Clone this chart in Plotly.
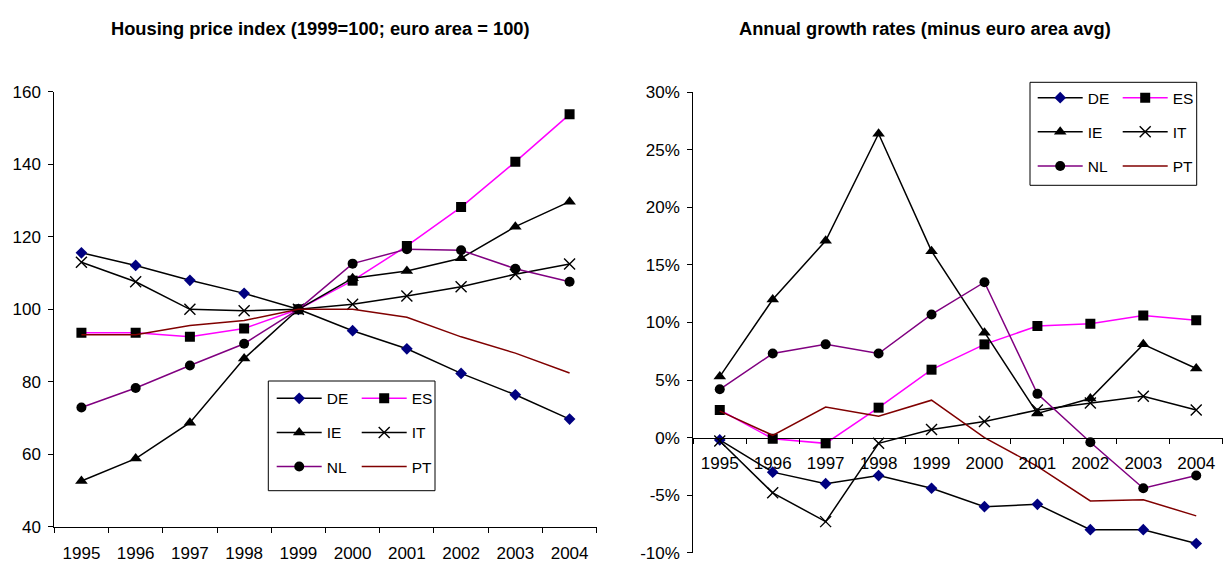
import plotly.graph_objects as go

# ---------------- data ----------------
years = ["1995", "1996", "1997", "1998", "1999", "2000", "2001", "2002", "2003", "2004"]
countries = ["DE", "ES", "IE", "IT", "NL", "PT"]

# Housing price index (1999=100; euro area = 100)
idx_DE = [115.6, 112.1, 108.0, 104.4, 100.0, 94.1, 89.1, 82.3, 76.4, 69.7]
idx_ES = [93.5, 93.5, 92.4, 94.7, 100.0, 107.9, 117.5, 128.2, 140.7, 153.8]
idx_IE = [52.6, 58.8, 68.7, 86.4, 100.0, 108.6, 110.6, 114.1, 122.8, 129.7]
idx_IT = [113.0, 107.6, 100.0, 99.6, 100.0, 101.4, 103.7, 106.2, 109.7, 112.5]
idx_NL = [72.9, 78.3, 84.5, 90.5, 100.0, 112.6, 116.6, 116.3, 111.2, 107.6]
idx_PT = [93.0, 93.0, 95.5, 96.9, 100.0, 100.0, 97.8, 92.4, 87.9, 82.4]

# Annual growth rates (minus euro area avg), in percent
gr_DE = [-0.2, -3.0, -4.0, -3.3, -4.4, -6.0, -5.8, -8.0, -8.0, -9.2]
gr_ES = [2.4, -0.1, -0.5, 2.6, 5.9, 8.1, 9.7, 9.9, 10.6, 10.2]
gr_IE = [5.3, 12.0, 17.1, 26.4, 16.2, 9.1, 2.1, 3.4, 8.1, 6.0]
gr_IT = [-0.3, -4.8, -7.3, -0.5, 0.7, 1.4, 2.4, 3.0, 3.6, 2.4]
gr_NL = [4.2, 7.3, 8.1, 7.3, 10.7, 13.5, 3.8, -0.4, -4.4, -3.3]
gr_PT = [2.3, 0.2, 2.65, 1.85, 3.25, 0.0, -2.5, -5.5, -5.4, -6.8]

left_ticks = [40, 60, 80, 100, 120, 140, 160]
left_ticktext = ["40", "60", "80", "100", "120", "140", "160"]
right_ticks = [-10, -5, 0, 5, 10, 15, 20, 25, 30]
right_ticktext = ["-10%", "-5%", "0%", "5%", "10%", "15%", "20%", "25%", "30%"]

title_left = "Housing price index (1999=100; euro area = 100)"
title_right = "Annual growth rates (minus euro area avg)"

# ---------------- styles ----------------
WIN_W, WIN_H = 1231, 573
OFF = 8  # default page body margin
W, H = WIN_W - OFF, WIN_H - OFF
FONT = "Liberation Sans, Arial, sans-serif"

styles = {
    "DE": dict(line="#000000", symbol="diamond", mcolor="#000080", msize=9, mode="lines+markers"),
    "ES": dict(line="#FF00FF", symbol="square", mcolor="#000000", msize=10, mode="lines+markers"),
    "IE": dict(line="#000000", symbol="triangle-up", mcolor="#000000", msize=11, mode="lines+markers"),
    "IT": dict(line="#000000", symbol="x-thin-open", mcolor="#000000", msize=11, mode="lines+markers"),
    "NL": dict(line="#800080", symbol="circle", mcolor="#000000", msize=10, mode="lines+markers"),
    "PT": dict(line="#800000", symbol="circle", mcolor="#800000", msize=1, mode="lines"),
}

left_data = dict(DE=idx_DE, ES=idx_ES, IE=idx_IE, IT=idx_IT, NL=idx_NL, PT=idx_PT)
right_data = dict(DE=gr_DE, ES=gr_ES, IE=gr_IE, IT=gr_IT, NL=gr_NL, PT=gr_PT)

col1 = ["DE", "IE", "NL"]


def px_x(x):
    return (x - OFF) / W


def px_y(y):
    return 1 - (y - OFF) / H


fig = go.Figure()

for side, data, xa, ya, legs in [
    ("L", left_data, "x", "y", ("legend", "legend2")),
    ("R", right_data, "x2", "y2", ("legend3", "legend4")),
]:
    for c in countries:
        s = styles[c]
        marker = dict(symbol=s["symbol"], color=s["mcolor"], size=s["msize"])
        if s["symbol"] == "x-thin-open":
            marker["line"] = dict(color=s["mcolor"], width=1.4)
        fig.add_trace(go.Scatter(
            x=years, y=data[c], name=c, mode=s["mode"],
            line=dict(color=s["line"], width=1.5),
            marker=marker,
            xaxis=xa, yaxis=ya,
            legend=legs[0] if c in col1 else legs[1],
            legendgroup=side + c,
            hoverinfo="x+y+name",
        ))

axis_common = dict(
    showgrid=False, zeroline=False, showline=True, linecolor="#000000", linewidth=1,
    ticks="outside", ticklen=5, tickcolor="#000000", tickwidth=1, automargin=False,
    tickfont=dict(family=FONT, size=17, color="#000000"),
)

# domains (paper fractions)
Lx = [px_x(54.3), px_x(596.7)]
Ly = [px_y(526.7), px_y(91.9)]
Rx = [px_x(693.3), px_x(1222.7)]
Ry = [px_y(552.7), px_y(92.3)]
zero_pos = Ry[0] + (0 - right_ticks[0]) / (right_ticks[-1] - right_ticks[0]) * (Ry[1] - Ry[0])

fig.update_layout(
    width=W, height=H,
    margin=dict(l=0, r=0, t=0, b=0, autoexpand=False),
    paper_bgcolor="white", plot_bgcolor="rgba(0,0,0,0)",
    font=dict(family=FONT, color="#000000"),
    showlegend=True,
    xaxis=dict(axis_common, domain=Lx, anchor="y", type="category",
               categoryorder="array", categoryarray=years,
               range=[-0.5, 9.5], tickson="boundaries", ticklabelstandoff=11),
    yaxis=dict(axis_common, domain=Ly, anchor="x", range=[40, 160],
               tickvals=left_ticks, ticktext=left_ticktext, ticklabelstandoff=4),
    xaxis2=dict(axis_common, domain=Rx, anchor="free", position=zero_pos,
                type="category", categoryorder="array", categoryarray=years,
                range=[-0.5, 9.5], tickson="boundaries", ticklabelstandoff=10),
    yaxis2=dict(axis_common, domain=Ry, anchor="x2", range=[-10, 30],
                tickvals=right_ticks, ticktext=right_ticktext, ticklabelstandoff=4),
)

leg_common = dict(
    orientation="v", xanchor="left", yanchor="top",
    bgcolor="rgba(0,0,0,0)", borderwidth=0,
    font=dict(family=FONT, size=15.5, color="#000000"),
    itemwidth=45, tracegroupgap=11, traceorder="grouped",
)
fig.update_layout(
    legend=dict(leg_common, x=px_x(271.7), y=px_y(381.7)),
    legend2=dict(leg_common, x=px_x(356.7), y=px_y(381.7)),
    legend3=dict(leg_common, x=px_x(1032.7), y=px_y(81.1)),
    legend4=dict(leg_common, x=px_x(1117.7), y=px_y(81.1)),
)

# legend frames
for (x0, x1, y0, y1) in [(268.3, 435.0, 381.0, 490.7), (1030.0, 1196.7, 82.3, 185.3)]:
    fig.add_shape(type="rect", xref="paper", yref="paper",
                  x0=px_x(x0), x1=px_x(x1), y0=px_y(y1), y1=px_y(y0),
                  line=dict(color="#000000", width=1), fillcolor="white", layer="above")

# titles
for txt, cx in [(title_left, 320), (title_right, 925)]:
    fig.add_annotation(text="<b>" + txt + "</b>", xref="paper", yref="paper",
                       x=px_x(cx), y=px_y(28.5), xanchor="center", yanchor="middle",
                       showarrow=False, font=dict(family=FONT, size=18.3, color="#000000"))

fig.write_html("out.html")
